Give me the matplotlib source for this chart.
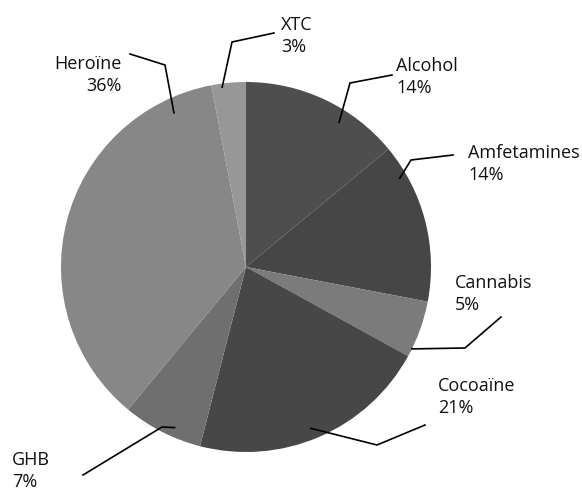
import numpy as np
import matplotlib
matplotlib.use("Agg")
import matplotlib.pyplot as plt

plt.rcParams['font.family'] = ['Open Sans', 'DejaVu Sans']

# data (clockwise from 12 o'clock)
drugs = ['Alcohol', 'Amfetamines', 'Cannabis', 'Cocoaïne', 'GHB', 'Heroïne', 'XTC']
shares = [14, 14, 5, 21, 7, 36, 3]
greys = ['#4e4e4e', '#464646', '#7b7b7b', '#474747', '#6f6f6f', '#878787', '#979797']

# layout, in pixels (y down)
cx, cy, R = 246, 267, 185
# where the leader starts: fraction along the wedge, fraction of radius
anchor = [(0.65, 0.93), (0.19, 0.96), (0.86, 1.0), (0.52, 0.94), (0.38, 0.95), (0.89, 0.92), (0.30, 0.98)]
# elbow, end of leader, text position, alignment
leader = [
    ((350, 83), (392, 75), (396, 77), 'left'),
    ((411, 160), (453, 155), (468, 164), 'left'),
    ((465, 348), (501, 317), (455, 294), 'left'),
    ((377, 445), (425, 425), (438, 397), 'left'),
    ((162, 427), (83, 475), (12, 471), 'left'),
    ((165, 65), (130, 54), (122, 75), 'right'),
    ((232, 42), (274, 33), (281, 36), 'left'),
]

fig = plt.figure(figsize=(5.82, 4.91), dpi=100)
ax = fig.add_axes([0, 0, 1, 1])

# y axis is flipped, so counterclock=True draws clockwise on screen
wedges, _ = ax.pie(shares, colors=greys, startangle=-90, counterclock=True,
                   center=(cx, cy), radius=R, wedgeprops=dict(linewidth=0))
ax.set_xlim(0, 582)
ax.set_ylim(491, 0)
ax.set_aspect('equal')
ax.axis('off')

total = sum(shares)
start = -90.0
for i, (name, val) in enumerate(zip(drugs, shares)):
    span = val / total * 360
    f, rf = anchor[i]
    th = np.radians(start + f * span)
    ax0 = cx + rf * R * np.cos(th)
    ay0 = cy + rf * R * np.sin(th)
    start += span
    (ex, ey), (tx, ty), (lx, ly), ha = leader[i]
    ax.plot([ax0, ex, tx], [ay0, ey, ty], color='black', lw=1.2, solid_joinstyle='miter')
    ax.text(lx, ly, f"{name}\n{val}%", ha=ha, va='center', fontsize=13,
            color='#111111', linespacing=1.35, multialignment=ha)

fig.savefig('out.png', dpi=100, facecolor='white')
